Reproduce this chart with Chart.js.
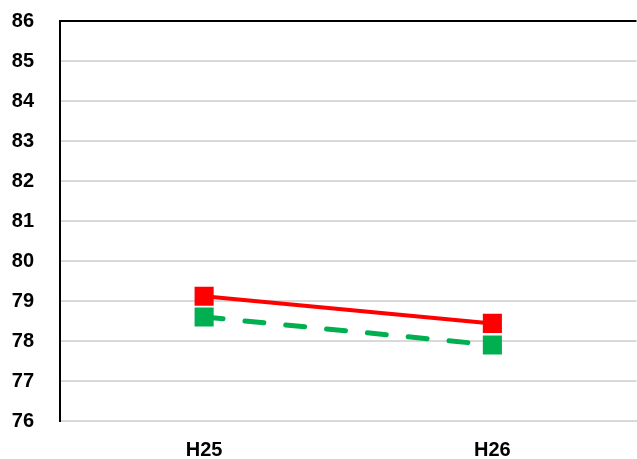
<!DOCTYPE html>
<html>
<head>
<meta charset="utf-8">
<script src="https://cdn.jsdelivr.net/npm/chart.js@4/dist/chart.umd.min.js"></script>
<style>
  html, body { margin:0; padding:0; background:#fff; overflow:hidden; }
  #wrap { width:650px; height:459px; }
</style>
</head>
<body>
<div id="wrap"><canvas id="c"></canvas></div>
<script>
const labels = ['H25', 'H26'];
const redValues = [79.12, 78.44];
const greenValues = [78.6, 77.9];
const yMin = 76, yMax = 86;

const FONT = "'Liberation Sans Narrow', 'Liberation Sans', sans-serif";

new Chart(document.getElementById('c'), {
  type: 'line',
  data: {
    labels,
    datasets: [
      {
        data: redValues,
        borderColor: '#ff0000', backgroundColor: '#ff0000',
        borderWidth: 4, pointStyle: 'rect', pointRadius: 13.5, pointHoverRadius: 13.5,
        pointBorderWidth: 0
      },
      {
        data: greenValues,
        borderColor: '#00b050', backgroundColor: '#00b050',
        borderWidth: 5, borderDash: [19, 22], borderCapStyle: 'round',
        pointStyle: 'rect', pointRadius: 13.5, pointHoverRadius: 13.5,
        pointBorderWidth: 0
      }
    ]
  },
  options: {
    responsive: true, maintainAspectRatio: false, animation: false,
    layout: { padding: { top: 21, right: 0, bottom: 0, left: 0 } },
    plugins: { legend: { display: false }, tooltip: { enabled: false } },
    scales: {
      x: {
        offset: true,
        afterFit: s => { s.height = 38; },
        grid: { display: false, drawTicks: false },
        border: { display: true, color: '#d9d9d9', width: 2 },
        ticks: { color: '#000', padding: 17, font: { family: FONT, size: 20, weight: 'bold' } }
      },
      y: {
        min: yMin, max: yMax,
        afterFit: s => { s.width = 60; s.paddingTop = 0; s.paddingBottom = 0; },
        ticks: { stepSize: 1, color: '#000', padding: 26, font: { family: FONT, size: 20, weight: 'bold' } },
        grid: {
          drawTicks: false,
          lineWidth: 2,
          color: ctx => (ctx.tick && ctx.tick.value === yMax) ? '#000' : '#d9d9d9'
        },
        border: { display: true, color: '#000', width: 2 }
      }
    }
  }
});
</script>
</body>
</html>
